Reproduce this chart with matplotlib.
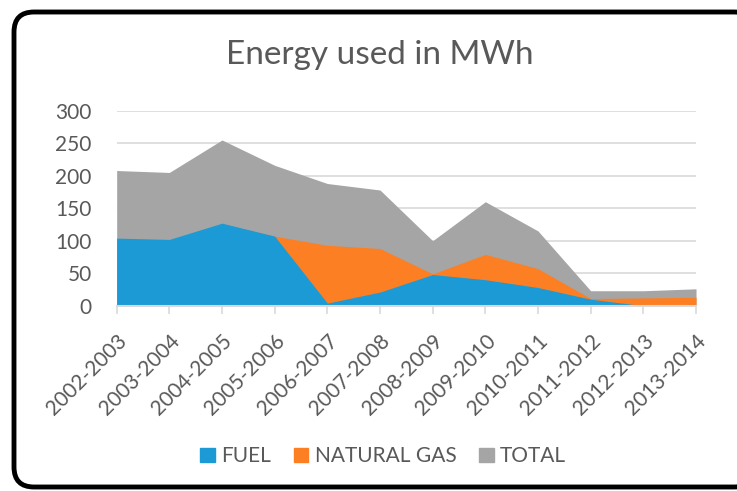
import matplotlib
matplotlib.use("Agg")
import matplotlib.pyplot as plt
import matplotlib.patches as mpatches
import numpy as np

# data (MWh)
years = ["2002-2003", "2003-2004", "2004-2005", "2005-2006", "2006-2007",
         "2007-2008", "2008-2009", "2009-2010", "2010-2011", "2011-2012",
         "2012-2013", "2013-2014"]
fuel = [104, 102, 127, 107, 4, 21, 48, 40, 28, 10, 0, 0]
natural_gas = [103, 101, 126, 107, 93, 88, 49, 79, 57, 11, 12, 13]
total = [208, 205, 255, 216, 188, 178, 100, 160, 115, 23, 23, 26]
y_ticks = [0, 50, 100, 150, 200, 250, 300]

C_FUEL = "#1b9ad6"
C_GAS = "#fd7f24"
C_TOTAL = "#a5a5a5"
C_TEXT = "#595959"
C_GRID = "#d9d9d9"

plt.rcParams["font.family"] = ["Lato", "DejaVu Sans"]

fig = plt.figure(figsize=(7.37, 4.91), dpi=100)

# rounded frame around the chart, drawn in pixel units
bg = fig.add_axes([0, 0, 1, 1], zorder=0)
bg.set_xlim(0, 737)
bg.set_ylim(491, 0)
bg.axis("off")
frame = mpatches.FancyBboxPatch((14, 12), 740, 475,
                                boxstyle="round,pad=0,rounding_size=20",
                                facecolor="white", edgecolor="black", linewidth=3.5)
bg.add_patch(frame)

ax = fig.add_axes([0.1583, 0.3774, 0.7861, 0.3971], zorder=1)
ax.set_facecolor("none")
x = np.arange(len(years))

ax.fill_between(x, 0, total, color=C_TOTAL, linewidth=0, zorder=2)
ax.fill_between(x, 0, natural_gas, color=C_GAS, linewidth=0, zorder=3)
ax.fill_between(x, 0, fuel, color=C_FUEL, linewidth=0, zorder=4)

ax.set_xlim(0, len(years) - 1)
ax.set_ylim(0, 300)
ax.set_yticks(y_ticks)
ax.set_xticks(x)
ax.set_xticklabels(years, rotation=45, ha="right", rotation_mode="anchor")

ax.grid(axis="y", color=C_GRID, linewidth=1.2, zorder=1)
ax.set_axisbelow(True)
for side in ["top", "right", "left"]:
    ax.spines[side].set_visible(False)
ax.spines["bottom"].set_color(C_GRID)
ax.spines["bottom"].set_linewidth(1.5)
ax.spines["bottom"].set_zorder(5)

ax.tick_params(axis="y", length=0, pad=18, labelsize=15, labelcolor=C_TEXT)
ax.tick_params(axis="x", length=6, width=1.2, color=C_GRID, pad=12,
               labelsize=15, labelcolor=C_TEXT)

fig.text(0.515, 0.887, "Energy used in MWh", ha="center", va="center",
         fontsize=24, color=C_TEXT)

handles = [mpatches.Patch(color=C_FUEL, label="FUEL"),
           mpatches.Patch(color=C_GAS, label="NATURAL GAS"),
           mpatches.Patch(color=C_TOTAL, label="TOTAL")]
leg = fig.legend(handles=handles, loc="center", bbox_to_anchor=(0.52, 0.071),
                 ncol=3, frameon=False, fontsize=15, handlelength=0.7,
                 handleheight=0.7, handletextpad=0.3, columnspacing=1.1)
for t in leg.get_texts():
    t.set_color(C_TEXT)

fig.savefig("out.png", dpi=100)
